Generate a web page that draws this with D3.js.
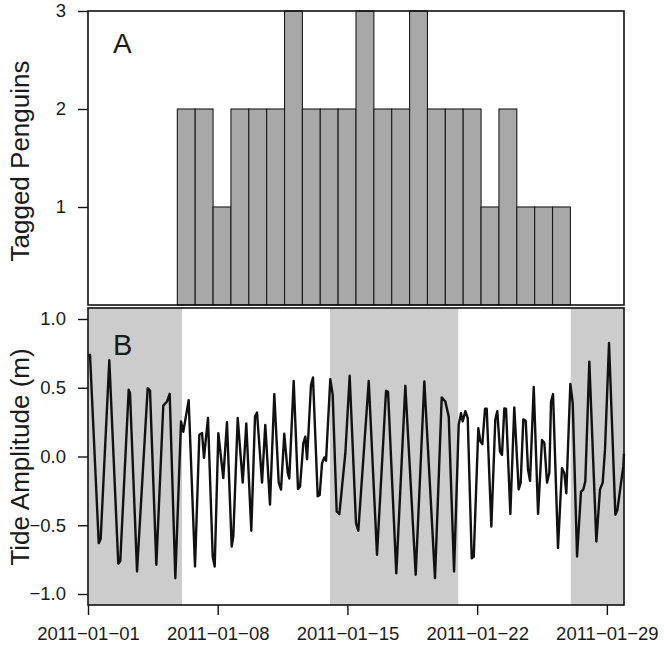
<!DOCTYPE html>
<html>
<head>
<meta charset="utf-8">
<script src="https://cdn.jsdelivr.net/npm/d3@7"></script>
<style>
  body { margin: 0; background: #fff; }
  svg text { font-family: "Liberation Sans", Arial, sans-serif; fill: #1a1a1a; }
</style>
</head>
<body>
<div class="svgcontainer"></div>
<script>
// panel A: tagged penguins per day (30 day slots)
const dayLabels = d3.range(1, 31).map(d => `2011-01-${String(d).padStart(2, "0")}`);
const penguinCounts = [0, 0, 0, 0, 0, 2, 2, 1, 2, 2, 2, 3, 2, 2, 2, 3, 2, 2, 3, 2, 2, 2, 1, 2, 1, 1, 1, 0, 0, 0];
const countTicks = [1, 2, 3];

// panel B: tide, hours since 2011-01-01 00:00 and level (m)
const tideHours = [0, 2.6, 13.9, 16.4, 27.6, 39.2, 41.8, 52.7, 54.4, 63.5, 77.3, 80.3, 88.5, 97.5, 102.3, 105.8, 113.1,
  120.5, 123.4, 130.4, 138.6, 144.2, 147.7, 150.2, 155.4, 161.5, 164.1, 168.8, 175.2, 180.0, 186.1, 188.2, 193.9,
  200.4, 205.0, 211.5, 216.3, 218.9, 225.4, 229.6, 235.7, 241.3, 247.0, 250.0, 254.2, 258.7, 260.7, 266.4, 272.0,
  274.6, 278.9, 281.5, 283.7, 288.8, 291.4, 297.5, 300.1, 303.1, 306.0, 308.3, 313.8, 316.9, 322.1, 325.5, 333.3,
  338.9, 347.1, 350.1, 363.6, 374.3, 386.0, 388.6, 399.3, 411.0, 424.4, 435.6, 449.4, 458.1, 462.8, 467.2, 474.1,
  480.1, 483.1, 485.3, 488.7, 491.8, 497.0, 499.6, 505.5, 508.1, 510.7, 514.2, 516.4, 522.4, 527.5, 530.1, 533.6,
  536.2, 539.2, 541.4, 547.0, 552.1, 557.8, 560.4, 563.8, 566.9, 569.9, 572.5, 577.3, 582.9, 588.0, 591.0, 594.5,
  597.5, 599.7, 602.3, 608.7, 613.9, 616.9, 619.5, 624.7, 627.8, 633.4, 638.5, 641.5, 644.1, 649.3, 658.4, 663.1,
  666.6, 669.6, 674.8, 683.0, 685.6, 693.3, 694.2];
const tideLevel = [0.73, 0.74, -0.63, -0.60, 0.70, -0.78, -0.76, 0.485, 0.46, -0.836, 0.497, 0.48, -0.788, 0.37, 0.40, 0.456, -0.885,
  0.255, 0.18, 0.41, -0.80, 0.158, 0.17, -0.01, 0.28, -0.727, -0.80, 0.17, -0.157, 0.25, -0.655, -0.58, 0.28,
  -0.19, 0.24, -0.54, 0.29, 0.32, -0.19, 0.23, -0.35, 0.454, -0.19, -0.24, 0.165, -0.12, -0.16, 0.55, -0.237,
  -0.22, 0.097, 0.145, -0.02, 0.52, 0.575, -0.29, -0.28, -0.05, -0.007, -0.03, 0.563, 0.45, -0.40, -0.42, 0.024,
  0.587, -0.485, -0.54, 0.55, -0.715, 0.478, 0.47, -0.85, 0.514, -0.86, 0.545, -0.885, 0.43, 0.40, 0.29, -0.836,
  0.23, 0.315, 0.255, 0.33, 0.28, -0.74, -0.73, 0.206, 0.11, 0.09, 0.347, 0.347, -0.51, 0.267, 0.33, 0.036,
  0.012, 0.35, 0.347, -0.417, 0.357, -0.24, -0.19, 0.27, 0.26, -0.097, -0.177, 0.505, -0.417, 0.12, 0.10, -0.19,
  -0.12, 0.40, 0.454, -0.666, -0.085, -0.12, -0.267, 0.528, 0.388, -0.727, -0.255, -0.24, -0.18, 0.69, -0.618, -0.24,
  -0.19, 0.05, 0.825, -0.424, -0.39, -0.07, 0.02];
// shaded periods (hours since start)
const shadeStart = [0, 313.4, 625.2];
const shadeEnd = [121.7, 479.5, 694.2];
const tideTicks = [-1, -0.5, 0, 0.5, 1];
const dateTicks = ["2011-01-01", "2011-01-08", "2011-01-15", "2011-01-22", "2011-01-29"];

const W = 664, H = 648;
const left = 88, right = 624;
const topA = 11, botA = 305, topB = 308, botB = 605;

const t0 = Date.UTC(2011, 0, 1);
const hourToDate = h => new Date(t0 + h * 3600e3);

const svg = d3.select('.svgcontainer')
  .append('svg')
  .attr('width', W)
  .attr('height', H);

// ---------- panel A ----------
const xA = d3.scaleBand().domain(dayLabels).range([left, right]).padding(0);
const yA = d3.scaleLinear().domain([0, 3]).range([botA, topA]);

svg.selectAll('.bar')
  .data(dayLabels.map((d, i) => ({ d, n: penguinCounts[i] })).filter(e => e.n > 0))
  .enter()
  .append('rect')
  .attr('class', 'bar')
  .attr('x', e => xA(e.d))
  .attr('width', xA.bandwidth())
  .attr('y', e => yA(e.n))
  .attr('height', e => yA(0) - yA(e.n))
  .attr('fill', '#a8a8a8')
  .attr('stroke', '#1a1a1a')
  .attr('stroke-width', 1.1);

svg.append('rect')
  .attr('x', left).attr('y', topA)
  .attr('width', right - left).attr('height', botA - topA)
  .attr('fill', 'none').attr('stroke', '#111').attr('stroke-width', 1.6);

const axA = svg.append('g')
  .attr('transform', `translate(${left},0)`)
  .call(d3.axisLeft(yA).tickValues(countTicks).tickSize(10).tickPadding(12).tickFormat(d3.format('d')));

svg.append('text')
  .attr('x', 113).attr('y', 53)
  .attr('font-size', 28)
  .text('A');

svg.append('text')
  .attr('transform', `translate(29,161) rotate(-90)`)
  .attr('text-anchor', 'middle')
  .attr('font-size', 26)
  .text('Tagged Penguins');

// ---------- panel B ----------
const xB = d3.scaleUtc().domain([hourToDate(0), hourToDate(694.2)]).range([left, right]);
const yB = d3.scaleLinear().domain([-1.08, 1.08]).range([botB, topB]);

svg.selectAll('.shade')
  .data(shadeStart.map((s, i) => [s, shadeEnd[i]]))
  .enter()
  .append('rect')
  .attr('class', 'shade')
  .attr('x', d => xB(hourToDate(d[0])))
  .attr('width', d => xB(hourToDate(d[1])) - xB(hourToDate(d[0])))
  .attr('y', topB)
  .attr('height', botB - topB)
  .attr('fill', '#cccccc');

const tide = tideHours.map((h, i) => ({ t: hourToDate(h), v: tideLevel[i] }));

svg.append('path')
  .datum(tide)
  .attr('fill', 'none')
  .attr('stroke', '#111')
  .attr('stroke-width', 2.4)
  .attr('stroke-linejoin', 'round')
  .attr('d', d3.line().x(d => xB(d.t)).y(d => yB(d.v)));

svg.append('rect')
  .attr('x', left).attr('y', topB)
  .attr('width', right - left).attr('height', botB - topB)
  .attr('fill', 'none').attr('stroke', '#111').attr('stroke-width', 1.6);

const axBy = svg.append('g')
  .attr('transform', `translate(${left},0)`)
  .call(d3.axisLeft(yB).tickValues(tideTicks).tickSize(10).tickPadding(12).tickFormat(d3.format('.1f')));

const fmtDate = d3.utcFormat('%Y-%m-%d');
const axBx = svg.append('g')
  .attr('transform', `translate(0,${botB})`)
  .call(d3.axisBottom(xB)
    .tickValues(dateTicks.map(s => new Date(s + 'T00:00:00Z')))
    .tickSize(10).tickPadding(12)
    .tickFormat(d => fmtDate(d).replace(/-/g, '\u2212')));

[axA, axBy, axBx].forEach(g => {
  g.select('.domain').remove();
  g.selectAll('.tick line').attr('stroke', '#111').attr('stroke-width', 1.4);
  g.selectAll('.tick text').attr('font-size', 18.5).attr('fill', '#1a1a1a')
    .style('font-family', '"Liberation Sans", Arial, sans-serif');
});

svg.append('text')
  .attr('x', 113).attr('y', 355)
  .attr('font-size', 29)
  .text('B');

svg.append('text')
  .attr('transform', `translate(29,457) rotate(-90)`)
  .attr('text-anchor', 'middle')
  .attr('font-size', 26)
  .text('Tide Amplitude (m)');
</script>
</body>
</html>
